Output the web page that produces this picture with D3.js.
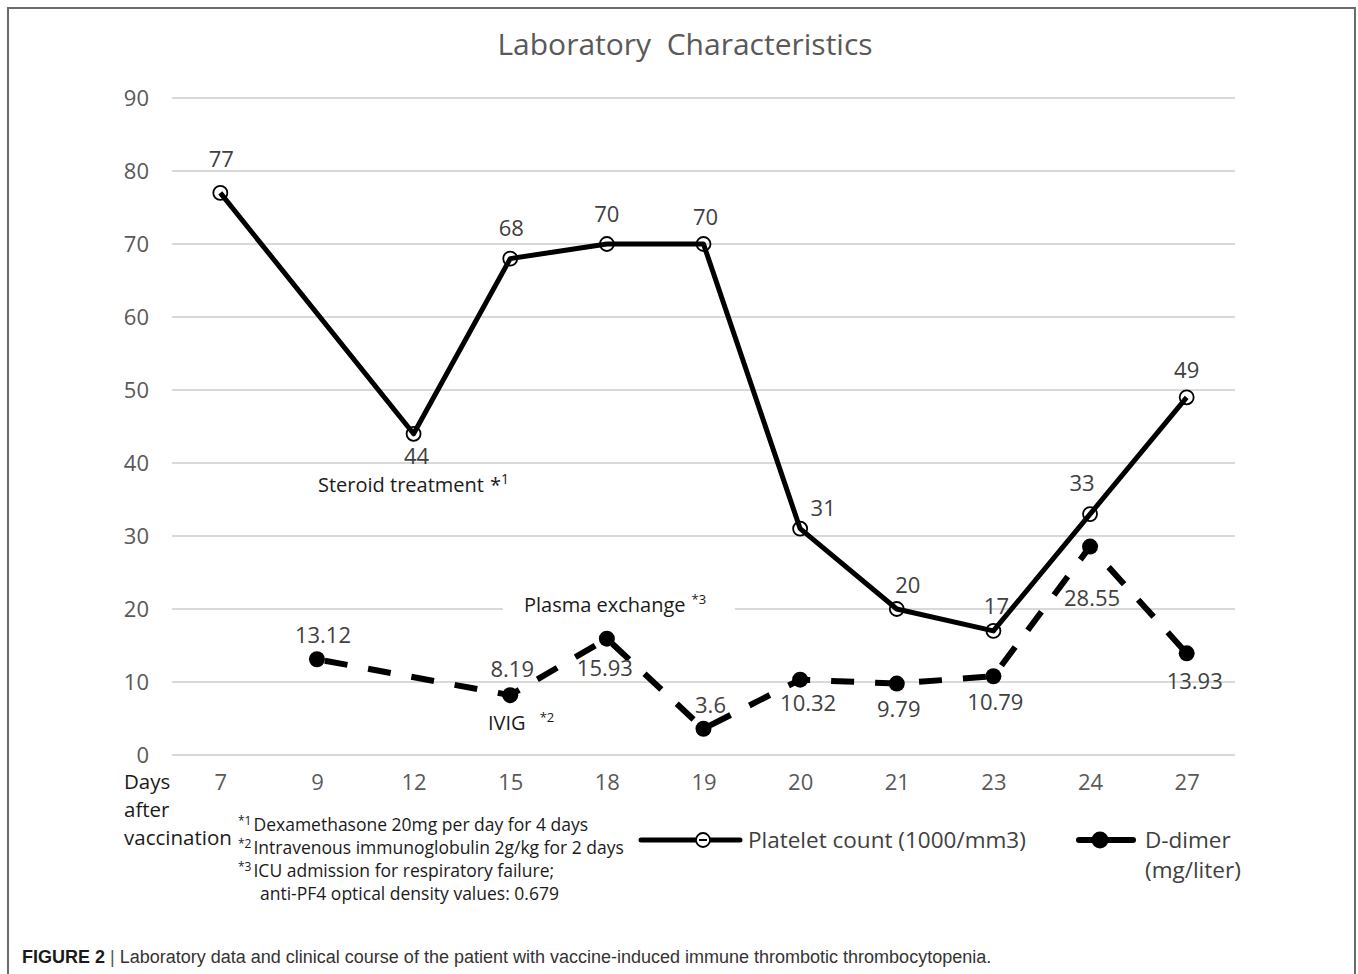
<!DOCTYPE html>
<html><head><meta charset="utf-8">
<script src="https://cdn.jsdelivr.net/npm/d3@7"></script>
<style>
body{margin:0;background:#fff;}
svg{display:block;}
text{white-space:pre;}
</style></head>
<body>
<svg id="chart" width="1358" height="974"></svg>
<script>
// ---- data ----
const days = ["7","9","12","15","18","19","20","21","23","24","27"];
const platelet = [77,null,44,68,70,70,31,20,17,33,49];
const dDimer = [null,13.12,null,8.19,15.93,3.6,10.32,9.79,10.79,28.55,13.93];
const yTicks = [0,10,20,30,40,50,60,70,80,90];
const title = "Laboratory  Characteristics";
const footnotes = [
  ["*1","Dexamethasone 20mg per day for 4 days"],
  ["*2","Intravenous immunoglobulin 2g/kg for 2 days"],
  ["*3","ICU admission for respiratory failure;"],
  ["","anti-PF4 optical density values: 0.679"]
];
const seriesNames = ["Platelet count (1000/mm3)", "D-dimer", "(mg/liter)"];
const caption = "Laboratory data and clinical course of the patient with vaccine-induced immune thrombotic thrombocytopenia.";

// label placements (layout only)
const plateletLabelOff = [[1,-26],null,[3,30],[1,-23],[0,-22],[2,-19],[23,-13],[11,-16],[3,-17],[-8,-23],[0,-19]];
const dimerLabelOff = [null,[6,-16],null,[2,-18],[-2,37],[7,-16],[8,31],[2,33],[2,34],[2,59],[8,36]];

const svg = d3.select("#chart");
const font = "'Open Sans', 'Noto Sans', sans-serif";

// frame
svg.append("path").attr("d","M8,974 V8 H1355 V974").attr("fill","none").attr("stroke","#6b6b6b").attr("stroke-width",2);

const x = d3.scalePoint().domain(days).range([172,1235]).padding(0.5);
const y = d3.scaleLinear().domain([0,90]).range([755,98]);

// gridlines
const grid = svg.append("g");
yTicks.forEach(t=>{
  grid.append("line").attr("x1",172).attr("x2",1235).attr("y1",y(t)).attr("y2",y(t))
    .attr("stroke","#d9d9d9").attr("stroke-width",2);
});

// y axis
const yAxis = d3.axisLeft(y).tickValues(yTicks).tickSize(0).tickPadding(0);
const yg = svg.append("g").attr("transform","translate(149,0)").call(yAxis);
yg.select(".domain").remove();
yg.selectAll("text").attr("font-family",font).attr("font-size",22).attr("fill","#595959").attr("dy","0.35em");

// x axis
const xAxis = d3.axisBottom(x).tickSize(0).tickPadding(0);
const xg = svg.append("g").attr("transform","translate(0,774)").call(xAxis);
xg.select(".domain").remove();
xg.selectAll("text").attr("font-family",font).attr("font-size",22).attr("fill","#595959").attr("dy","0.71em");

// title
svg.append("text").attr("x",685).attr("y",55).attr("text-anchor","middle")
  .attr("font-family",font).attr("font-size",30).attr("fill","#595959").text(title);

// white box behind "Plasma exchange" annotation
svg.append("rect").attr("x",503).attr("y",592).attr("width",232).attr("height",26).attr("fill","#fff");

// lines
const pData = days.map((d,i)=>({d, v:platelet[i], i})).filter(p=>p.v!=null);
const dData = days.map((d,i)=>({d, v:dDimer[i], i})).filter(p=>p.v!=null);
const line = d3.line().x(p=>x(p.d)).y(p=>y(p.v));

svg.append("path").attr("d",line(dData)).attr("fill","none").attr("stroke","#000")
  .attr("stroke-width",6).attr("stroke-dasharray","23,21").attr("stroke-dashoffset",-8);
svg.append("path").attr("d",line(pData)).attr("fill","none").attr("stroke","#000")
  .attr("stroke-width",5).attr("stroke-linejoin","round");

// markers
svg.selectAll(".pm").data(pData).enter().append("circle")
  .attr("cx",p=>x(p.d)).attr("cy",p=>y(p.v)).attr("r",7)
  .attr("fill","none").attr("stroke","#000").attr("stroke-width",1.8);
svg.selectAll(".dm").data(dData).enter().append("circle")
  .attr("cx",p=>x(p.d)).attr("cy",p=>y(p.v)).attr("r",8).attr("fill","#000");

// data labels
svg.selectAll(".pl").data(pData).enter().append("text")
  .attr("x",p=>x(p.d)+plateletLabelOff[p.i][0]).attr("y",p=>y(p.v)+plateletLabelOff[p.i][1])
  .attr("text-anchor","middle").attr("font-family",font).attr("font-size",22).attr("fill","#404040")
  .text(p=>p.v);
svg.selectAll(".dl").data(dData).enter().append("text")
  .attr("x",p=>x(p.d)+dimerLabelOff[p.i][0]).attr("y",p=>y(p.v)+dimerLabelOff[p.i][1])
  .attr("text-anchor","middle").attr("font-family",font).attr("font-size",22).attr("fill","#404040")
  .text(p=>p.v);

// annotations
function annot(xp, yp, main, sup, gap, supSize){
  const t = svg.append("text").attr("x",xp).attr("y",yp).attr("font-family",font)
    .attr("font-size",20).attr("fill","#1a1a1a");
  t.append("tspan").text(main);
  t.append("tspan").attr("dx",gap).attr("dy",-8).attr("font-size",supSize).text(sup);
}
function annot2(xp, yp, main, star, num){
  const t = svg.append("text").attr("x",xp).attr("y",yp).attr("font-family",font)
    .attr("font-size",20).attr("fill","#1a1a1a");
  t.append("tspan").text(main);
  t.append("tspan").attr("dx",6).text(star);
  t.append("tspan").attr("dy",-8).attr("font-size",14).text(num);
}
annot2(318,492,"Steroid treatment","*","1");
annot(524,612,"Plasma exchange","*3",6,13);
annot(488,730,"IVIG","*2",14,13);

// Days after vaccination
const dav = ["Days","after","vaccination"];
dav.forEach((s,i)=>{
  svg.append("text").attr("x",124).attr("y",789+i*28).attr("font-family",font)
    .attr("font-size",20.5).attr("fill","#1a1a1a").text(s);
});

// footnotes
footnotes.forEach((f,i)=>{
  const t = svg.append("text").attr("x",238).attr("y",831+i*23).attr("font-family",font)
    .attr("font-size",17.5).attr("fill","#1a1a1a");
  if(f[0]){
    t.append("tspan").attr("font-size",12).attr("dy",-6).text(f[0]);
    t.append("tspan").attr("dy",6).attr("dx",2).text(f[1]);
  } else {
    t.append("tspan").attr("dx",22).text(f[1]);
  }
});

// legend
const lg = svg.append("g");
lg.append("line").attr("x1",641).attr("x2",740).attr("y1",840).attr("y2",840)
  .attr("stroke","#000").attr("stroke-width",5).attr("stroke-linecap","round");
lg.append("circle").attr("cx",703).attr("cy",840).attr("r",7).attr("fill","#fff")
  .attr("stroke","#000").attr("stroke-width",1.8);
lg.append("line").attr("x1",699).attr("x2",707).attr("y1",840).attr("y2",840).attr("stroke","#000").attr("stroke-width",2);
lg.append("text").attr("x",748).attr("y",848).attr("font-family",font).attr("font-size",22.5)
  .attr("fill","#404040").text(seriesNames[0]);
lg.append("line").attr("x1",1079).attr("x2",1095).attr("y1",840).attr("y2",840)
  .attr("stroke","#000").attr("stroke-width",6).attr("stroke-linecap","round");
lg.append("line").attr("x1",1106).attr("x2",1133).attr("y1",840).attr("y2",840)
  .attr("stroke","#000").attr("stroke-width",6).attr("stroke-linecap","round");
lg.append("circle").attr("cx",1100).attr("cy",840).attr("r",8.5).attr("fill","#000");
lg.append("text").attr("x",1145).attr("y",848).attr("font-family",font).attr("font-size",22.5)
  .attr("fill","#404040").text(seriesNames[1]);
lg.append("text").attr("x",1145).attr("y",878).attr("font-family",font).attr("font-size",22.5)
  .attr("fill","#404040").text(seriesNames[2]);

// caption
const cap = svg.append("text").attr("x",22).attr("y",963).attr("font-family","'Liberation Sans', Arial, sans-serif")
  .attr("font-size",18).attr("fill","#333");
cap.append("tspan").attr("font-weight","bold").attr("fill","#1a1a1a").text("FIGURE 2");
cap.append("tspan").attr("fill","#555").text(" | ");
cap.append("tspan").text(caption);
</script>
</body></html>
